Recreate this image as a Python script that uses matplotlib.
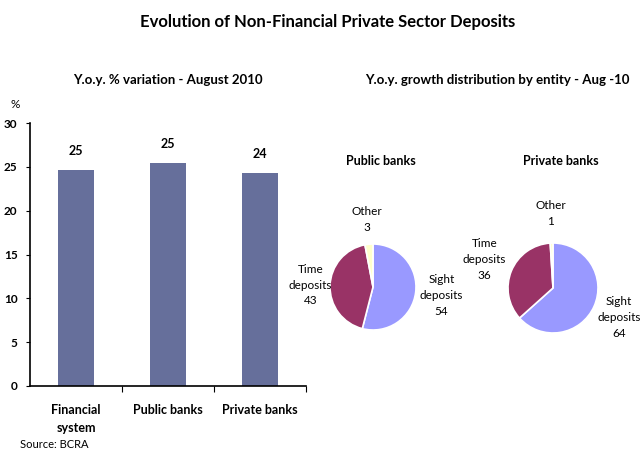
import matplotlib
matplotlib.use('Agg')
import matplotlib.pyplot as plt
import numpy as np

plt.rcParams['font.family'] = ['Lato', 'DejaVu Sans']

# bar chart: y.o.y. % variation
categories = ['Financial\nsystem', 'Public banks', 'Private banks']
variation = [24.6, 25.4, 24.3]

# pie charts: growth distribution by entity
pie_labels = ['Sight\ndeposits', 'Time\ndeposits', 'Other']
public_shares = [54, 43, 3]
private_shares = [64, 36, 1]
pie_colors = ['#9999ff', '#993366', '#ffffcc']

fig = plt.figure(figsize=(6.4, 4.53), dpi=100)
W, H = 640, 453

fig.text(328 / W, 1 - 22 / H, 'Evolution of Non-Financial Private Sector Deposits',
         ha='center', va='center', fontsize=12, fontweight='bold')
fig.text(168 / W, 1 - 80 / H, 'Y.o.y. % variation - August 2010',
         ha='center', va='center', fontsize=9.5, fontweight='bold')
fig.text(497 / W, 1 - 80 / H, 'Y.o.y. growth distribution by entity - Aug -10',
         ha='center', va='center', fontsize=9.5, fontweight='bold')

# --- bars ---
ax = fig.add_axes([30 / W, 1 - 386 / H, 276 / W, 263 / H])
x = np.arange(len(categories))
ax.bar(x, variation, width=0.4, color='#666f9b')
for xi, v in zip(x, variation):
    ax.text(xi, v + 1.5, f'{v:.0f}', ha='center', va='bottom',
            fontsize=9, fontweight='bold')
ax.set_xlim(-0.5, len(categories) - 0.5)
ax.set_ylim(0, 30)
ax.set_yticks(range(0, 31, 5))
ax.set_xticks(x)
ax.set_xticklabels(categories, fontsize=9, fontweight='bold', linespacing=1.6)
ax.set_xticks(x + 0.5, minor=True)
ax.tick_params(axis='x', which='major', length=0, pad=13)
ax.tick_params(axis='x', which='minor', length=4, width=0.8, direction='out')
ax.tick_params(axis='y', length=3, width=0.8, labelsize=8.5, pad=6)
for lbl in ax.get_yticklabels():
    lbl.set_fontweight('bold')
for s in ['top', 'right']:
    ax.spines[s].set_visible(False)
for s in ['left', 'bottom']:
    ax.spines[s].set_linewidth(1.2)
ax.text(-0.055, 1.07, '%', transform=ax.transAxes, ha='center', va='center', fontsize=8.5)
fig.text(20 / W, 1 - 445 / H, 'Source: BCRA', ha='left', va='center', fontsize=8)


# --- pies ---
def draw_pie(cx, cy, r, shares, title, dists):
    pax = fig.add_axes([(cx - 2 * r) / W, 1 - (cy + 2 * r) / H, 4 * r / W, 4 * r / H])
    wedges, _ = pax.pie(shares, colors=pie_colors, startangle=90, counterclock=False,
                        radius=1, wedgeprops=dict(edgecolor='white', linewidth=1.2))
    pax.set_xlim(-2, 2)
    pax.set_ylim(-2, 2)
    pax.set_aspect('equal')
    pax.axis('off')
    for w, lab, val, d in zip(wedges, pie_labels, shares, dists):
        ang = np.deg2rad((w.theta1 + w.theta2) / 2)
        pax.text(d * np.cos(ang), d * np.sin(ang), f'{lab}\n{val}',
                 ha='center', va='center', fontsize=8.5, linespacing=1.55)
    fig.text(cx / W + 0.012, 1 - 161 / H, title, ha='center', va='center',
             fontsize=9, fontweight='bold')


draw_pie(373, 287, 43, public_shares, 'Public banks', [1.6, 1.45, 1.58])
draw_pie(553, 288, 45, private_shares, 'Private banks', [1.6, 1.65, 1.65])

fig.savefig('out.png', dpi=100)
